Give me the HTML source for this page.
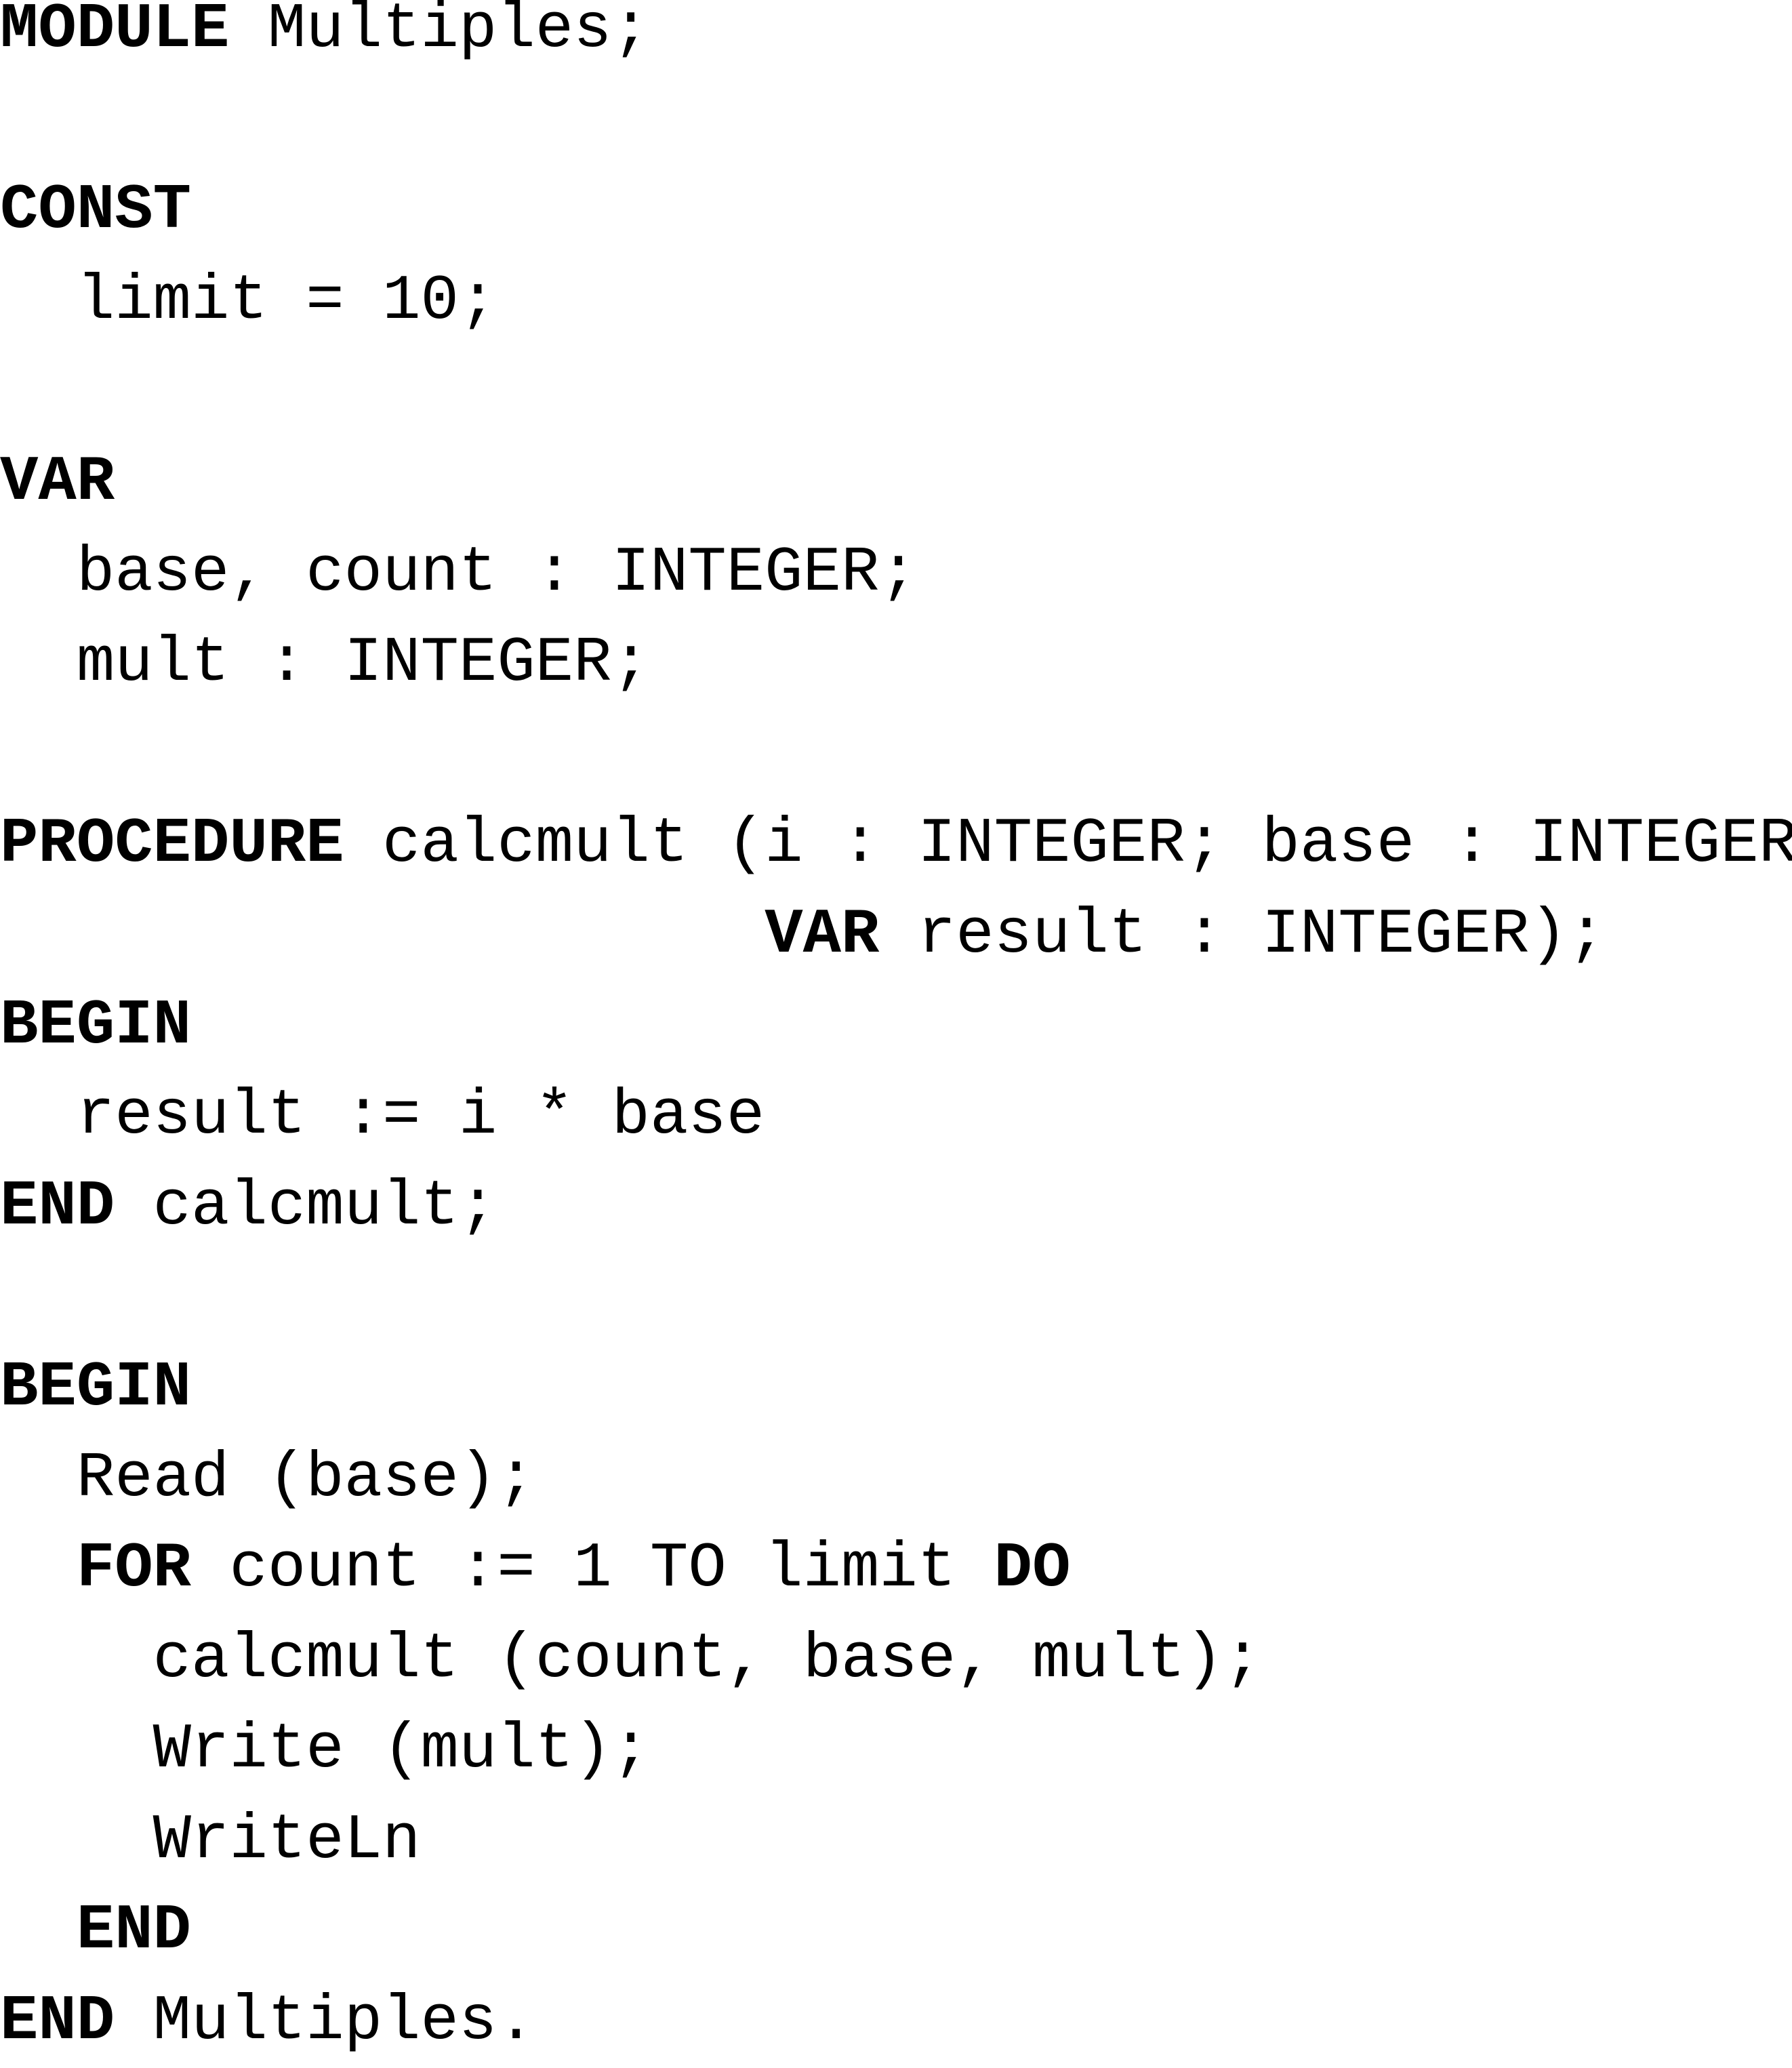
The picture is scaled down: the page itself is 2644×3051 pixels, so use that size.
<!DOCTYPE html>
<html><head><meta charset="utf-8"><style>
html,body{margin:0;padding:0;background:#fff;width:2644px;height:3014px;overflow:hidden}
pre{margin:0;position:absolute;left:0;top:-22px;font-family:"Liberation Mono",monospace;font-size:94px;line-height:133.6px;color:#000}
b{font-weight:bold}
</style></head><body>
<pre><b>MODULE</b> Multiples;

<b>CONST</b>
  limit = 10;

<b>VAR</b>
  base, count : INTEGER;
  mult : INTEGER;

<b>PROCEDURE</b> calcmult (i : INTEGER; base : INTEGER;
                    <b>VAR</b> result : INTEGER);
<b>BEGIN</b>
  result := i * base
<b>END</b> calcmult;

<b>BEGIN</b>
  Read (base);
  <b>FOR</b> count := 1 TO limit <b>DO</b>
    calcmult (count, base, mult);
    Write (mult);
    WriteLn
  <b>END</b>
<b>END</b> Multiples.</pre>
</body></html>
